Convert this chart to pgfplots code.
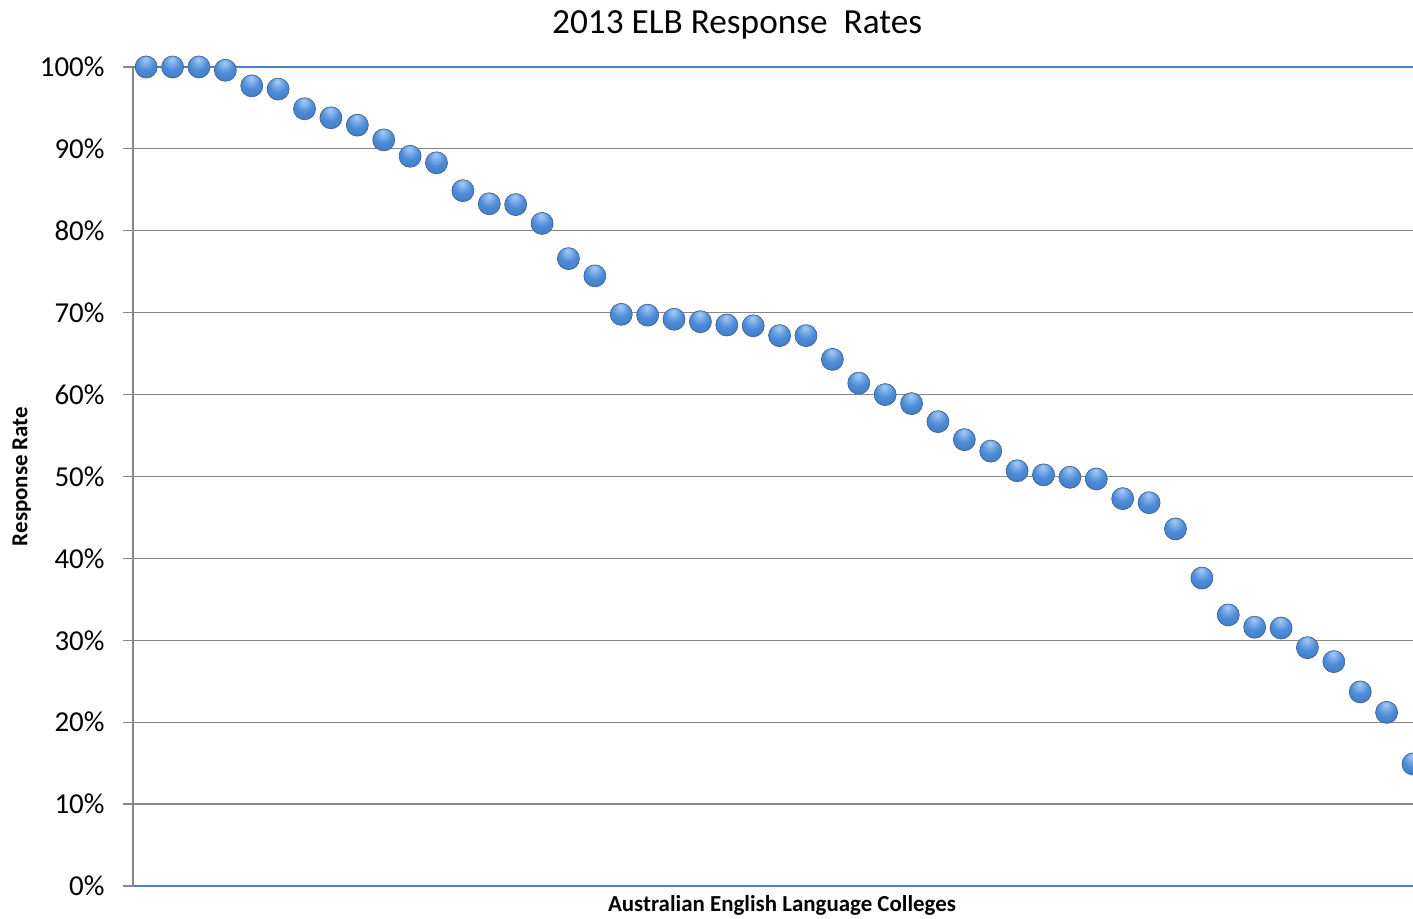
\documentclass[border=0pt]{standalone}
\usepackage{fontspec}
\setmainfont{Carlito}
\usepackage{pgfplots}
\pgfplotsset{compat=1.18}
\definecolor{gridgray}{RGB}{134,134,134}
\definecolor{axisblue}{RGB}{79,129,189}
\definecolor{ballhi}{RGB}{165,203,245}
\definecolor{ballmid}{RGB}{78,140,216}
\definecolor{balldark}{RGB}{56,112,186}
\definecolor{balledge}{RGB}{40,86,148}
\pgfdeclareradialshading{xlball}{\pgfpoint{-2bp}{18bp}}{color(0bp)=(ballhi); color(6bp)=(ballhi!70!ballmid); color(20bp)=(ballmid); color(46bp)=(balldark); color(58bp)=(balledge); color(72bp)=(balledge)}
\pgfdeclareplotmark{xlball}{%
  \pgfpathcircle{\pgfpointorigin}{\pgfplotmarksize}%
  \pgfshadepath{xlball}{0}%
  \pgfusepath{}%
  \pgfpathcircle{\pgfpointorigin}{\pgfplotmarksize}%
  \pgfusepathqstroke}
\begin{document}
\begin{tikzpicture}
\begin{axis}[
  scale only axis,
  width=1280bp, height=819bp,
  xmin=-0.5, xmax=48, ymin=0, ymax=100,
  axis lines=left,
  axis line style={-},
  x axis line style={color=axisblue, line width=1.2bp},
  y axis line style={color=gridgray, line width=1.2bp},
  xtick=\empty,
  ytick={0,10,...,90},
  extra y ticks={100},
  extra y tick style={grid style={color=axisblue, line width=1.2bp}},
  ymajorgrids,
  grid style={color=gridgray, line width=1.2bp},
  major tick length=10bp,
  tick align=outside,
  tick style={color=gridgray, line width=1.2bp},
  /pgf/number format/assume math mode=true,
  yticklabel={\pgfmathprintnumber{\tick}\%},
  yticklabel style={font=\fontsize{29}{34}\selectfont, xshift=-15bp},
  clip=false,
  title={2013 ELB Response\ \ Rates},
  title style={font=\fontsize{35.4}{40}\selectfont, at={(0.472,1)}, anchor=base, yshift=28bp},
  xlabel={\textbf{Australian English Language Colleges}},
  xlabel style={font=\fontsize{23}{27}\selectfont, at={(0.507,0)}, anchor=base, yshift=-25bp},
  ylabel={\textbf{Response Rate}},
  every axis y label/.style={at={(axis description cs:-0.087,0.5)}, rotate=90, anchor=center, font=\fontsize{23}{27}\selectfont},
]
\addplot[only marks, mark=xlball, mark size=11bp, mark options={draw=balledge!70!gray, line width=0.7bp}] coordinates {
(0,100) (1,100) (2,100) (3,99.6) (4,97.7) (5,97.3) (6,94.9) (7,93.8) (8,92.9) (9,91.1)
(10,89.1) (11,88.3) (12,84.9) (13,83.3) (14,83.2) (15,80.9) (16,76.6) (17,74.5) (18,69.8) (19,69.7)
(20,69.2) (21,68.9) (22,68.5) (23,68.4) (24,67.2) (25,67.2) (26,64.3) (27,61.4) (28,60.0) (29,58.9)
(30,56.7) (31,54.5) (32,53.1) (33,50.7) (34,50.2) (35,49.9) (36,49.7) (37,47.3) (38,46.8) (39,43.6)
(40,37.6) (41,33.1) (42,31.6) (43,31.5) (44,29.1) (45,27.4) (46,23.7) (47,21.2) (48,14.9)
};
\end{axis}
\pgfresetboundingbox
\useasboundingbox (-133bp,-33bp) rectangle (1280bp,886bp);
\end{tikzpicture}
\end{document}
